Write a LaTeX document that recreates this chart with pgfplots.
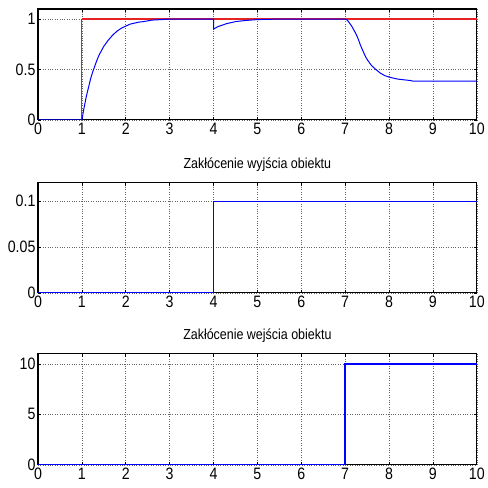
\documentclass[border=0pt]{standalone}
\usepackage{fontspec}
\setmainfont{Liberation Sans}[FakeStretch=0.86]
\usepackage{pgfplots}
\pgfplotsset{compat=1.18}
\definecolor{mred}{RGB}{230,35,35}
\definecolor{mblue}{RGB}{0,0,255}
\pgfplotsset{
  mstyle/.style={
    set layers=standard,
    scale only axis, width=439pt, height=111pt,
    xmin=0, xmax=10, xtick={0,1,...,10},
    axis line style={black, line width=1.1pt},
    tick style={black, line width=0.6pt},
    major tick length=3pt,
    tick align=inside,
    xtick pos=both, ytick pos=both,
    grid=major,
    major grid style={black!60, dotted, line width=0.5pt},
    tick label style={font=\fontsize{16.5}{16.5}\selectfont},
    /pgf/number format/assume math mode=true,
    xticklabel style={yshift=0pt},
    yticklabel style={xshift=1pt},
    title style={font=\fontsize{14.5}{14.5}\selectfont, at={(0.5,1)}, anchor=south, yshift=2pt},
  }
}
\begin{document}
\begin{tikzpicture}
\begin{axis}[mstyle, at={(38pt,-9pt)}, anchor=north west,
  ymin=0, ymax=1.1, ytick={0,0.5,1}, yticklabels={0,0.5,1}]
\addplot[mred, line width=1.5pt] coordinates {(1,1) (10,1)};
\addplot[mred, line width=0.8pt] coordinates {(0,0) (1,0) (1,1)};
\addplot[mblue, line width=1pt] coordinates {
(0,0) (1,0) (1.05,0.12) (1.1,0.23) (1.15,0.32) (1.2,0.41) (1.25,0.48) (1.3,0.54) (1.35,0.60) (1.4,0.65)
(1.5,0.73) (1.6,0.79) (1.7,0.84) (1.8,0.88) (1.9,0.91) (2.0,0.93) (2.1,0.95) (2.2,0.96) (2.3,0.97)
(2.4,0.975) (2.6,0.99) (3.0,1.0) (4.0,1.0) (4.0,0.9) (4.1,0.925) (4.2,0.94) (4.3,0.955) (4.4,0.965)
(4.5,0.975) (4.7,0.985) (4.9,0.992) (5.0,0.995) (5.5,1.0) (7.0,1.0) (7.05,0.99) (7.1,0.96) (7.15,0.93)
(7.2,0.89) (7.25,0.85) (7.3,0.80) (7.35,0.74) (7.4,0.69) (7.45,0.64) (7.5,0.60) (7.6,0.54) (7.7,0.50)
(7.8,0.465) (7.9,0.44) (8.0,0.425) (8.1,0.415) (8.2,0.405) (8.3,0.40) (8.5,0.39) (8.55,0.384) (10,0.384)};
\end{axis}
\begin{axis}[mstyle, at={(38pt,-183pt)}, anchor=north west, height=110pt,
  title={Zakłócenie wyjścia obiektu},
  ymin=0, ymax=0.12, ytick={0,0.05,0.1}, yticklabels={0,0.05,0.1}]
\addplot[mblue, line width=1.4pt] coordinates {(0,0) (4,0) (4,0.1) (10,0.1)};
\end{axis}
\begin{axis}[mstyle, at={(38pt,-354pt)}, anchor=north west,
  title={Zakłócenie wejścia obiektu},
  ymin=0, ymax=11, ytick={0,5,10}, yticklabels={0,5,10}]
\addplot[mblue, line width=1.4pt] coordinates {(0,0) (7,0) (7,10) (10,10)};
\end{axis}
\path (0,0) (486pt,-488pt);
\end{tikzpicture}
\end{document}
